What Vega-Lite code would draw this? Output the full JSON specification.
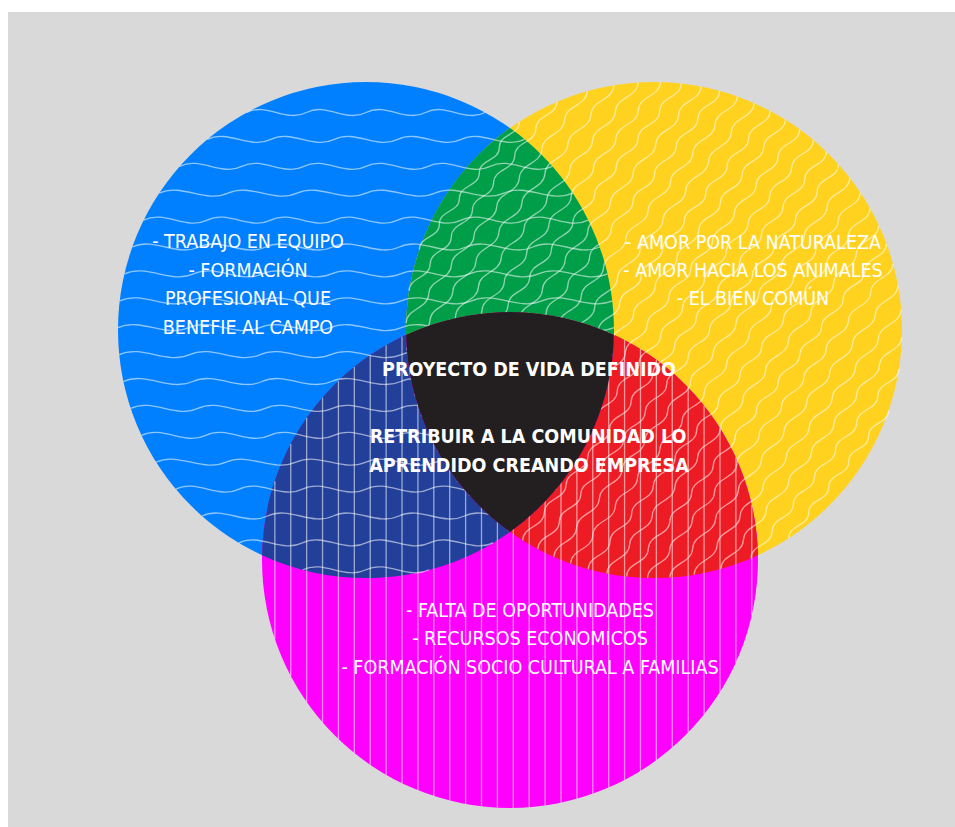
{
  "$schema": "https://vega.github.io/schema/vega-lite/v6.json",
  "width": 955,
  "height": 827,
  "autosize": {"type": "fit", "contains": "padding"},
  "padding": 0,
  "background": "white",
  "config": {"view": {"stroke": null}},
  "resolve": {"scale": {"color": "independent", "shape": "independent"}},
  "datasets": {
    "frame": [{"x": 8, "x2": 955, "y": 12, "y2": 827}],
    "sets": [
      {"set": "Blue", "cx": 366, "cy": 330},
      {"set": "Yellow", "cx": 654, "cy": 330},
      {"set": "Magenta", "cx": 510, "cy": 560}
    ],
    "regions": [
      {"region": "Blue∩Yellow", "cx": 510, "cy": 445},
      {"region": "Blue∩Magenta", "cx": 510, "cy": 445},
      {"region": "Yellow∩Magenta", "cx": 510, "cy": 445},
      {"region": "All", "cx": 510, "cy": 445}
    ],
    "labels": [
      {"text": "- TRABAJO EN EQUIPO", "x": 248, "y": 242, "area": "Blue"},
      {"text": "- FORMACIÓN", "x": 248, "y": 271, "area": "Blue"},
      {"text": "PROFESIONAL QUE", "x": 248, "y": 299, "area": "Blue"},
      {"text": "BENEFIE AL CAMPO", "x": 248, "y": 328, "area": "Blue"},
      {"text": "- AMOR POR LA NATURALEZA", "x": 753, "y": 243, "area": "Yellow"},
      {"text": "- AMOR HACIA LOS ANIMALES", "x": 753, "y": 271, "area": "Yellow"},
      {"text": "- EL BIEN COMÚN", "x": 753, "y": 299, "area": "Yellow"},
      {"text": "PROYECTO DE VIDA DEFINIDO", "x": 529, "y": 370, "area": "All"},
      {"text": "RETRIBUIR A LA COMUNIDAD LO", "x": 528, "y": 437, "area": "All"},
      {"text": "APRENDIDO CREANDO  EMPRESA", "x": 529, "y": 466, "area": "All"},
      {"text": "- FALTA DE OPORTUNIDADES", "x": 530, "y": 611, "area": "Magenta"},
      {"text": "- RECURSOS ECONOMICOS", "x": 530, "y": 639, "area": "Magenta"},
      {"text": "- FORMACIÓN SOCIO CULTURAL A FAMILIAS", "x": 530, "y": 668, "area": "Magenta"}
    ]
  },
  "layer": [
    {
      "data": {"name": "frame"},
      "mark": {"type": "rect", "color": "#d9d9d9"},
      "encoding": {
        "x": {"field": "x", "type": "quantitative", "axis": null, "scale": {"domain": [0, 955], "nice": false, "zero": false}},
        "x2": {"field": "x2"},
        "y": {"field": "y", "type": "quantitative", "axis": null, "scale": {"domain": [0, 827], "nice": false, "zero": false, "reverse": true}},
        "y2": {"field": "y2"}
      }
    },
    {
      "data": {"name": "sets"},
      "mark": {"type": "point", "shape": "circle", "filled": true, "size": 246016, "opacity": 1, "strokeWidth": 0},
      "encoding": {
        "x": {"field": "cx", "type": "quantitative", "axis": null, "scale": {"domain": [0, 955], "nice": false, "zero": false}},
        "y": {"field": "cy", "type": "quantitative", "axis": null, "scale": {"domain": [0, 827], "nice": false, "zero": false, "reverse": true}},
        "color": {"field": "set", "type": "nominal", "legend": null, "scale": {"domain": ["Blue", "Yellow", "Magenta"], "range": ["#0080ff", "#ffd21f", "#ff00ff"]}}
      }
    },
    {
      "data": {"name": "regions"},
      "transform": [{"filter": "datum.region !== 'All'"}],
      "mark": {"type": "point", "filled": true, "size": 640000, "opacity": 1, "strokeWidth": 0},
      "encoding": {
        "x": {"field": "cx", "type": "quantitative", "axis": null, "scale": {"domain": [0, 955], "nice": false, "zero": false}},
        "y": {"field": "cy", "type": "quantitative", "axis": null, "scale": {"domain": [0, 827], "nice": false, "zero": false, "reverse": true}},
        "shape": {"field": "region", "type": "nominal", "legend": null, "scale": {"domain": ["Blue∩Yellow", "Blue∩Magenta", "Yellow∩Magenta"], "range": [
          "M0,-0.79228A0.62,0.62,0,0,1,0.25988,-0.2754A0.62,0.62,0,0,0,-0.25988,-0.2754A0.62,0.62,0,0,1,0,-0.79228Z",
          "M-0.61988,0.2754A0.62,0.62,0,0,1,-0.25988,-0.2754A0.62,0.62,0,0,0,0,0.21728A0.62,0.62,0,0,1,-0.61988,0.2754Z",
          "M0.61988,0.2754A0.62,0.62,0,0,0,0.25988,-0.2754A0.62,0.62,0,0,1,0,0.21728A0.62,0.62,0,0,0,0.61988,0.2754Z"
        ]}},
        "color": {"field": "region", "type": "nominal", "legend": null, "scale": {"domain": ["Blue∩Yellow", "Blue∩Magenta", "Yellow∩Magenta"], "range": ["#009e49", "#22409a", "#ed1c24"]}}
      }
    },
    {
      "data": {"name": "sets"},
      "mark": {"type": "point", "filled": false, "size": 246016, "opacity": 1, "color": "white", "strokeOpacity": 0.55, "strokeWidth": 1.3},
      "encoding": {
        "x": {"field": "cx", "type": "quantitative", "axis": null, "scale": {"domain": [0, 955], "nice": false, "zero": false}},
        "y": {"field": "cy", "type": "quantitative", "axis": null, "scale": {"domain": [0, 827], "nice": false, "zero": false, "reverse": true}},
        "shape": {"field": "set", "type": "nominal", "legend": null, "scale": {"domain": ["Blue", "Yellow", "Magenta"], "range": [
          "M-.4806,-.877c.0801,-.042,.1602,.042,.2403,0,.0801,-.042,.1602,.042,.2403,0,.0801,-.042,.1602,.042,.2403,0,.0801,-.042,.1602,.042,.2403,0M-.6398,-.7685c.0853,-.042,.1706,.042,.2559,0,.0853,-.042,.1706,.042,.2559,0,.0853,-.042,.1706,.042,.2559,0,.0853,-.042,.1706,.042,.2559,0,.0853,-.042,.1706,.042,.2559,0M-.7513,-.66c.0835,-.042,.1669,.042,.2504,0,.0835,-.042,.1669,.042,.2504,0,.0835,-.042,.1669,.042,.2504,0,.0835,-.042,.1669,.042,.2504,0,.0835,-.042,.1669,.042,.2504,0,.0835,-.042,.1669,.042,.2504,0M-.8341,-.5516c.0927,-.042,.1853,.042,.278,0,.0927,-.042,.1853,.042,.278,0,.0927,-.042,.1853,.042,.278,0,.0927,-.042,.1853,.042,.278,0,.0927,-.042,.1853,.042,.278,0,.0927,-.042,.1853,.042,.278,0M-.8965,-.4431c.0854,-.042,.1707,.042,.2561,0,.0854,-.042,.1707,.042,.2561,0,.0854,-.042,.1707,.042,.2561,0,.0854,-.042,.1707,.042,.2561,0,.0854,-.042,.1707,.042,.2561,0,.0854,-.042,.1707,.042,.2561,0,.0854,-.042,.1707,.042,.2561,0M-.9423,-.3347c.0897,-.042,.1795,.042,.2692,0,.0897,-.042,.1795,.042,.2692,0,.0897,-.042,.1795,.042,.2692,0,.0897,-.042,.1795,.042,.2692,0,.0897,-.042,.1795,.042,.2692,0,.0897,-.042,.1795,.042,.2692,0,.0897,-.042,.1795,.042,.2692,0M-.9741,-.2262c.0928,-.042,.1855,.042,.2783,0,.0928,-.042,.1855,.042,.2783,0,.0928,-.042,.1855,.042,.2783,0,.0928,-.042,.1855,.042,.2783,0,.0928,-.042,.1855,.042,.2783,0,.0928,-.042,.1855,.042,.2783,0,.0928,-.042,.1855,.042,.2783,0M-.993,-.1177c.0946,-.042,.1891,.042,.2837,0,.0946,-.042,.1891,.042,.2837,0,.0946,-.042,.1891,.042,.2837,0,.0946,-.042,.1891,.042,.2837,0,.0946,-.042,.1891,.042,.2837,0,.0946,-.042,.1891,.042,.2837,0,.0946,-.042,.1891,.042,.2837,0M-1,-.0093c.0952,-.042,.1905,.042,.2857,0,.0952,-.042,.1905,.042,.2857,0,.0952,-.042,.1905,.042,.2857,0,.0952,-.042,.1905,.042,.2857,0,.0952,-.042,.1905,.042,.2857,0,.0952,-.042,.1905,.042,.2857,0,.0952,-.042,.1905,.042,.2857,0M-.9951,.0992c.0948,-.042,.1895,.042,.2843,0,.0948,-.042,.1895,.042,.2843,0,.0948,-.042,.1895,.042,.2843,0,.0948,-.042,.1895,.042,.2843,0,.0948,-.042,.1895,.042,.2843,0,.0948,-.042,.1895,.042,.2843,0,.0948,-.042,.1895,.042,.2843,0M-.9782,.2077c.0932,-.042,.1863,.042,.2795,0,.0932,-.042,.1863,.042,.2795,0,.0932,-.042,.1863,.042,.2795,0,.0932,-.042,.1863,.042,.2795,0,.0932,-.042,.1863,.042,.2795,0,.0932,-.042,.1863,.042,.2795,0,.0932,-.042,.1863,.042,.2795,0M-.9487,.3161c.0904,-.042,.1807,.042,.2711,0,.0904,-.042,.1807,.042,.2711,0,.0904,-.042,.1807,.042,.2711,0,.0904,-.042,.1807,.042,.2711,0,.0904,-.042,.1807,.042,.2711,0,.0904,-.042,.1807,.042,.2711,0,.0904,-.042,.1807,.042,.2711,0M-.9054,.4246c.0862,-.042,.1725,.042,.2587,0,.0862,-.042,.1725,.042,.2587,0,.0862,-.042,.1725,.042,.2587,0,.0862,-.042,.1725,.042,.2587,0,.0862,-.042,.1725,.042,.2587,0,.0862,-.042,.1725,.042,.2587,0,.0862,-.042,.1725,.042,.2587,0M-.8461,.5331c.094,-.042,.188,.042,.282,0,.094,-.042,.188,.042,.282,0,.094,-.042,.188,.042,.282,0,.094,-.042,.188,.042,.282,0,.094,-.042,.188,.042,.282,0,.094,-.042,.188,.042,.282,0M-.7671,.6415c.0852,-.042,.1705,.042,.2557,0,.0852,-.042,.1705,.042,.2557,0,.0852,-.042,.1705,.042,.2557,0,.0852,-.042,.1705,.042,.2557,0,.0852,-.042,.1705,.042,.2557,0,.0852,-.042,.1705,.042,.2557,0M-.6614,.75c.0882,-.042,.1764,.042,.2646,0,.0882,-.042,.1764,.042,.2646,0,.0882,-.042,.1764,.042,.2646,0,.0882,-.042,.1764,.042,.2646,0,.0882,-.042,.1764,.042,.2646,0M-.5128,.8585c.0855,-.042,.1709,.042,.2564,0,.0855,-.042,.1709,.042,.2564,0,.0855,-.042,.1709,.042,.2564,0,.0855,-.042,.1709,.042,.2564,0M-.2551,.9669c.085,-.042,.1701,.042,.2551,0,.085,-.042,.1701,.042,.2551,0",
          "M-.5877,.8091c.0017,-.0591,.0862,-.0534,.0879,-.1125,.0017,-.0591,.0862,-.0534,.0879,-.1125,.0017,-.0591,.0862,-.0534,.0879,-.1125,.0017,-.0591,.0862,-.0534,.0879,-.1125,.0017,-.0591,.0862,-.0534,.0879,-.1125,.0017,-.0591,.0862,-.0534,.0879,-.1125,.0017,-.0591,.0862,-.0534,.0879,-.1125,.0017,-.0591,.0862,-.0534,.0879,-.1125,.0017,-.0591,.0862,-.0534,.0879,-.1125,.0017,-.0591,.0862,-.0534,.0879,-.1125,.0017,-.0591,.0862,-.0534,.0879,-.1125,.0017,-.0591,.0862,-.0534,.0879,-.1125,.0017,-.0591,.0862,-.0534,.0879,-.1125,.0017,-.0591,.0862,-.0534,.0879,-.1125M-.6429,.766c.0017,-.0591,.0862,-.0534,.0879,-.1125,.0017,-.0591,.0862,-.0534,.0879,-.1125,.0017,-.0591,.0862,-.0534,.0879,-.1125,.0017,-.0591,.0862,-.0534,.0879,-.1125,.0017,-.0591,.0862,-.0534,.0879,-.1125,.0017,-.0591,.0862,-.0534,.0879,-.1125,.0017,-.0591,.0862,-.0534,.0879,-.1125,.0017,-.0591,.0862,-.0534,.0879,-.1125,.0017,-.0591,.0862,-.0534,.0879,-.1125,.0017,-.0591,.0862,-.0534,.0879,-.1125,.0017,-.0591,.0862,-.0534,.0879,-.1125,.0017,-.0591,.0862,-.0534,.0879,-.1125,.0017,-.0591,.0862,-.0534,.0879,-.1125,.0017,-.0591,.0862,-.0534,.0879,-.1125M-.5296,.8483c.0016,-.0589,.0859,-.0531,.0875,-.112,.0016,-.0589,.0859,-.0531,.0875,-.112,.0016,-.0589,.0859,-.0531,.0875,-.112,.0016,-.0589,.0859,-.0531,.0875,-.112,.0016,-.0589,.0859,-.0531,.0875,-.112,.0016,-.0589,.0859,-.0531,.0875,-.112,.0016,-.0589,.0859,-.0531,.0875,-.112,.0016,-.0589,.0859,-.0531,.0875,-.112,.0016,-.0589,.0859,-.0531,.0875,-.112,.0016,-.0589,.0859,-.0531,.0875,-.112,.0016,-.0589,.0859,-.0531,.0875,-.112,.0016,-.0589,.0859,-.0531,.0875,-.112,.0016,-.0589,.0859,-.0531,.0875,-.112,.0016,-.0589,.0859,-.0531,.0875,-.112M-.695,.719c.0016,-.0589,.0859,-.0531,.0875,-.112,.0016,-.0589,.0859,-.0531,.0875,-.112,.0016,-.0589,.0859,-.0531,.0875,-.112,.0016,-.0589,.0859,-.0531,.0875,-.112,.0016,-.0589,.0859,-.0531,.0875,-.112,.0016,-.0589,.0859,-.0531,.0875,-.112,.0016,-.0589,.0859,-.0531,.0875,-.112,.0016,-.0589,.0859,-.0531,.0875,-.112,.0016,-.0589,.0859,-.0531,.0875,-.112,.0016,-.0589,.0859,-.0531,.0875,-.112,.0016,-.0589,.0859,-.0531,.0875,-.112,.0016,-.0589,.0859,-.0531,.0875,-.112,.0016,-.0589,.0859,-.0531,.0875,-.112,.0016,-.0589,.0859,-.0531,.0875,-.112M-.4683,.8836c.0013,-.0585,.0853,-.0523,.0866,-.1108,.0013,-.0585,.0853,-.0523,.0866,-.1108,.0013,-.0585,.0853,-.0523,.0866,-.1108,.0013,-.0585,.0853,-.0523,.0866,-.1108,.0013,-.0585,.0853,-.0523,.0866,-.1108,.0013,-.0585,.0853,-.0523,.0866,-.1108,.0013,-.0585,.0853,-.0523,.0866,-.1108,.0013,-.0585,.0853,-.0523,.0866,-.1108,.0013,-.0585,.0853,-.0523,.0866,-.1108,.0013,-.0585,.0853,-.0523,.0866,-.1108,.0013,-.0585,.0853,-.0523,.0866,-.1108,.0013,-.0585,.0853,-.0523,.0866,-.1108,.0013,-.0585,.0853,-.0523,.0866,-.1108,.0013,-.0585,.0853,-.0523,.0866,-.1108M-.7441,.6681c.0013,-.0585,.0853,-.0523,.0866,-.1108,.0013,-.0585,.0853,-.0523,.0866,-.1108,.0013,-.0585,.0853,-.0523,.0866,-.1108,.0013,-.0585,.0853,-.0523,.0866,-.1108,.0013,-.0585,.0853,-.0523,.0866,-.1108,.0013,-.0585,.0853,-.0523,.0866,-.1108,.0013,-.0585,.0853,-.0523,.0866,-.1108,.0013,-.0585,.0853,-.0523,.0866,-.1108,.0013,-.0585,.0853,-.0523,.0866,-.1108,.0013,-.0585,.0853,-.0523,.0866,-.1108,.0013,-.0585,.0853,-.0523,.0866,-.1108,.0013,-.0585,.0853,-.0523,.0866,-.1108,.0013,-.0585,.0853,-.0523,.0866,-.1108,.0013,-.0585,.0853,-.0523,.0866,-.1108M-.4039,.9148c.003,-.0607,.0888,-.0568,.0918,-.1175,.003,-.0607,.0888,-.0568,.0918,-.1175,.003,-.0607,.0888,-.0568,.0918,-.1175,.003,-.0607,.0888,-.0568,.0918,-.1175,.003,-.0607,.0888,-.0568,.0918,-.1175,.003,-.0607,.0888,-.0568,.0918,-.1175,.003,-.0607,.0888,-.0568,.0918,-.1175,.003,-.0607,.0888,-.0568,.0918,-.1175,.003,-.0607,.0888,-.0568,.0918,-.1175,.003,-.0607,.0888,-.0568,.0918,-.1175,.003,-.0607,.0888,-.0568,.0918,-.1175,.003,-.0607,.0888,-.0568,.0918,-.1175,.003,-.0607,.0888,-.0568,.0918,-.1175M-.79,.6131c.003,-.0607,.0888,-.0568,.0918,-.1175,.003,-.0607,.0888,-.0568,.0918,-.1175,.003,-.0607,.0888,-.0568,.0918,-.1175,.003,-.0607,.0888,-.0568,.0918,-.1175,.003,-.0607,.0888,-.0568,.0918,-.1175,.003,-.0607,.0888,-.0568,.0918,-.1175,.003,-.0607,.0888,-.0568,.0918,-.1175,.003,-.0607,.0888,-.0568,.0918,-.1175,.003,-.0607,.0888,-.0568,.0918,-.1175,.003,-.0607,.0888,-.0568,.0918,-.1175,.003,-.0607,.0888,-.0568,.0918,-.1175,.003,-.0607,.0888,-.0568,.0918,-.1175,.003,-.0607,.0888,-.0568,.0918,-.1175M-.3361,.9418c.0024,-.0599,.0875,-.0552,.0899,-.1151,.0024,-.0599,.0875,-.0552,.0899,-.1151,.0024,-.0599,.0875,-.0552,.0899,-.1151,.0024,-.0599,.0875,-.0552,.0899,-.1151,.0024,-.0599,.0875,-.0552,.0899,-.1151,.0024,-.0599,.0875,-.0552,.0899,-.1151,.0024,-.0599,.0875,-.0552,.0899,-.1151,.0024,-.0599,.0875,-.0552,.0899,-.1151,.0024,-.0599,.0875,-.0552,.0899,-.1151,.0024,-.0599,.0875,-.0552,.0899,-.1151,.0024,-.0599,.0875,-.0552,.0899,-.1151,.0024,-.0599,.0875,-.0552,.0899,-.1151,.0024,-.0599,.0875,-.0552,.0899,-.1151M-.8326,.5539c.0024,-.0599,.0875,-.0552,.0899,-.1151,.0024,-.0599,.0875,-.0552,.0899,-.1151,.0024,-.0599,.0875,-.0552,.0899,-.1151,.0024,-.0599,.0875,-.0552,.0899,-.1151,.0024,-.0599,.0875,-.0552,.0899,-.1151,.0024,-.0599,.0875,-.0552,.0899,-.1151,.0024,-.0599,.0875,-.0552,.0899,-.1151,.0024,-.0599,.0875,-.0552,.0899,-.1151,.0024,-.0599,.0875,-.0552,.0899,-.1151,.0024,-.0599,.0875,-.0552,.0899,-.1151,.0024,-.0599,.0875,-.0552,.0899,-.1151,.0024,-.0599,.0875,-.0552,.0899,-.1151,.0024,-.0599,.0875,-.0552,.0899,-.1151M-.2649,.9643c.0016,-.0589,.0859,-.053,.0874,-.1119,.0016,-.0589,.0859,-.053,.0874,-.1119,.0016,-.0589,.0859,-.053,.0874,-.1119,.0016,-.0589,.0859,-.053,.0874,-.1119,.0016,-.0589,.0859,-.053,.0874,-.1119,.0016,-.0589,.0859,-.053,.0874,-.1119,.0016,-.0589,.0859,-.053,.0874,-.1119,.0016,-.0589,.0859,-.053,.0874,-.1119,.0016,-.0589,.0859,-.053,.0874,-.1119,.0016,-.0589,.0859,-.053,.0874,-.1119,.0016,-.0589,.0859,-.053,.0874,-.1119,.0016,-.0589,.0859,-.053,.0874,-.1119,.0016,-.0589,.0859,-.053,.0874,-.1119M-.8716,.4902c.0016,-.0589,.0859,-.053,.0874,-.1119,.0016,-.0589,.0859,-.053,.0874,-.1119,.0016,-.0589,.0859,-.053,.0874,-.1119,.0016,-.0589,.0859,-.053,.0874,-.1119,.0016,-.0589,.0859,-.053,.0874,-.1119,.0016,-.0589,.0859,-.053,.0874,-.1119,.0016,-.0589,.0859,-.053,.0874,-.1119,.0016,-.0589,.0859,-.053,.0874,-.1119,.0016,-.0589,.0859,-.053,.0874,-.1119,.0016,-.0589,.0859,-.053,.0874,-.1119,.0016,-.0589,.0859,-.053,.0874,-.1119,.0016,-.0589,.0859,-.053,.0874,-.1119,.0016,-.0589,.0859,-.053,.0874,-.1119M-.1897,.9819c.0029,-.0605,.0885,-.0564,.0914,-.117,.0029,-.0605,.0885,-.0564,.0914,-.117,.0029,-.0605,.0885,-.0564,.0914,-.117,.0029,-.0605,.0885,-.0564,.0914,-.117,.0029,-.0605,.0885,-.0564,.0914,-.117,.0029,-.0605,.0885,-.0564,.0914,-.117,.0029,-.0605,.0885,-.0564,.0914,-.117,.0029,-.0605,.0885,-.0564,.0914,-.117,.0029,-.0605,.0885,-.0564,.0914,-.117,.0029,-.0605,.0885,-.0564,.0914,-.117,.0029,-.0605,.0885,-.0564,.0914,-.117,.0029,-.0605,.0885,-.0564,.0914,-.117M-.9068,.4216c.0029,-.0605,.0885,-.0564,.0914,-.117,.0029,-.0605,.0885,-.0564,.0914,-.117,.0029,-.0605,.0885,-.0564,.0914,-.117,.0029,-.0605,.0885,-.0564,.0914,-.117,.0029,-.0605,.0885,-.0564,.0914,-.117,.0029,-.0605,.0885,-.0564,.0914,-.117,.0029,-.0605,.0885,-.0564,.0914,-.117,.0029,-.0605,.0885,-.0564,.0914,-.117,.0029,-.0605,.0885,-.0564,.0914,-.117,.0029,-.0605,.0885,-.0564,.0914,-.117,.0029,-.0605,.0885,-.0564,.0914,-.117,.0029,-.0605,.0885,-.0564,.0914,-.117M-.1103,.9939c.0015,-.0588,.0858,-.053,.0873,-.1118,.0015,-.0588,.0858,-.053,.0873,-.1118,.0015,-.0588,.0858,-.053,.0873,-.1118,.0015,-.0588,.0858,-.053,.0873,-.1118,.0015,-.0588,.0858,-.053,.0873,-.1118,.0015,-.0588,.0858,-.053,.0873,-.1118,.0015,-.0588,.0858,-.053,.0873,-.1118,.0015,-.0588,.0858,-.053,.0873,-.1118,.0015,-.0588,.0858,-.053,.0873,-.1118,.0015,-.0588,.0858,-.053,.0873,-.1118,.0015,-.0588,.0858,-.053,.0873,-.1118,.0015,-.0588,.0858,-.053,.0873,-.1118M-.9377,.3474c.0015,-.0588,.0858,-.053,.0873,-.1118,.0015,-.0588,.0858,-.053,.0873,-.1118,.0015,-.0588,.0858,-.053,.0873,-.1118,.0015,-.0588,.0858,-.053,.0873,-.1118,.0015,-.0588,.0858,-.053,.0873,-.1118,.0015,-.0588,.0858,-.053,.0873,-.1118,.0015,-.0588,.0858,-.053,.0873,-.1118,.0015,-.0588,.0858,-.053,.0873,-.1118,.0015,-.0588,.0858,-.053,.0873,-.1118,.0015,-.0588,.0858,-.053,.0873,-.1118,.0015,-.0588,.0858,-.053,.0873,-.1118,.0015,-.0588,.0858,-.053,.0873,-.1118M-.026,.9997c.0024,-.0599,.0876,-.0552,.09,-.1152,.0024,-.0599,.0876,-.0552,.09,-.1152,.0024,-.0599,.0876,-.0552,.09,-.1152,.0024,-.0599,.0876,-.0552,.09,-.1152,.0024,-.0599,.0876,-.0552,.09,-.1152,.0024,-.0599,.0876,-.0552,.09,-.1152,.0024,-.0599,.0876,-.0552,.09,-.1152,.0024,-.0599,.0876,-.0552,.09,-.1152,.0024,-.0599,.0876,-.0552,.09,-.1152,.0024,-.0599,.0876,-.0552,.09,-.1152,.0024,-.0599,.0876,-.0552,.09,-.1152M-.9637,.267c.0024,-.0599,.0876,-.0552,.09,-.1152,.0024,-.0599,.0876,-.0552,.09,-.1152,.0024,-.0599,.0876,-.0552,.09,-.1152,.0024,-.0599,.0876,-.0552,.09,-.1152,.0024,-.0599,.0876,-.0552,.09,-.1152,.0024,-.0599,.0876,-.0552,.09,-.1152,.0024,-.0599,.0876,-.0552,.09,-.1152,.0024,-.0599,.0876,-.0552,.09,-.1152,.0024,-.0599,.0876,-.0552,.09,-.1152,.0024,-.0599,.0876,-.0552,.09,-.1152,.0024,-.0599,.0876,-.0552,.09,-.1152M.0642,.998c.0031,-.0608,.0889,-.0569,.092,-.1177,.0031,-.0608,.0889,-.0569,.092,-.1177,.0031,-.0608,.0889,-.0569,.092,-.1177,.0031,-.0608,.0889,-.0569,.092,-.1177,.0031,-.0608,.0889,-.0569,.092,-.1177,.0031,-.0608,.0889,-.0569,.092,-.1177,.0031,-.0608,.0889,-.0569,.092,-.1177,.0031,-.0608,.0889,-.0569,.092,-.1177,.0031,-.0608,.0889,-.0569,.092,-.1177,.0031,-.0608,.0889,-.0569,.092,-.1177M-.9839,.1791c.0031,-.0608,.0889,-.0569,.092,-.1177,.0031,-.0608,.0889,-.0569,.092,-.1177,.0031,-.0608,.0889,-.0569,.092,-.1177,.0031,-.0608,.0889,-.0569,.092,-.1177,.0031,-.0608,.0889,-.0569,.092,-.1177,.0031,-.0608,.0889,-.0569,.092,-.1177,.0031,-.0608,.0889,-.0569,.092,-.1177,.0031,-.0608,.0889,-.0569,.092,-.1177,.0031,-.0608,.0889,-.0569,.092,-.1177,.0031,-.0608,.0889,-.0569,.092,-.1177M.1617,.9869c.0033,-.0611,.0894,-.0576,.0928,-.1187,.0033,-.0611,.0894,-.0576,.0928,-.1187,.0033,-.0611,.0894,-.0576,.0928,-.1187,.0033,-.0611,.0894,-.0576,.0928,-.1187,.0033,-.0611,.0894,-.0576,.0928,-.1187,.0033,-.0611,.0894,-.0576,.0928,-.1187,.0033,-.0611,.0894,-.0576,.0928,-.1187,.0033,-.0611,.0894,-.0576,.0928,-.1187,.0033,-.0611,.0894,-.0576,.0928,-.1187M-.9967,.0818c.0033,-.0611,.0894,-.0576,.0928,-.1187,.0033,-.0611,.0894,-.0576,.0928,-.1187,.0033,-.0611,.0894,-.0576,.0928,-.1187,.0033,-.0611,.0894,-.0576,.0928,-.1187,.0033,-.0611,.0894,-.0576,.0928,-.1187,.0033,-.0611,.0894,-.0576,.0928,-.1187,.0033,-.0611,.0894,-.0576,.0928,-.1187,.0033,-.0611,.0894,-.0576,.0928,-.1187,.0033,-.0611,.0894,-.0576,.0928,-.1187M.2691,.9631c.0029,-.0605,.0885,-.0564,.0913,-.1169,.0029,-.0605,.0885,-.0564,.0913,-.1169,.0029,-.0605,.0885,-.0564,.0913,-.1169,.0029,-.0605,.0885,-.0564,.0913,-.1169,.0029,-.0605,.0885,-.0564,.0913,-.1169,.0029,-.0605,.0885,-.0564,.0913,-.1169,.0029,-.0605,.0885,-.0564,.0913,-.1169,.0029,-.0605,.0885,-.0564,.0913,-.1169M-.9996,-.0281c.0029,-.0605,.0885,-.0564,.0913,-.1169,.0029,-.0605,.0885,-.0564,.0913,-.1169,.0029,-.0605,.0885,-.0564,.0913,-.1169,.0029,-.0605,.0885,-.0564,.0913,-.1169,.0029,-.0605,.0885,-.0564,.0913,-.1169,.0029,-.0605,.0885,-.0564,.0913,-.1169,.0029,-.0605,.0885,-.0564,.0913,-.1169,.0029,-.0605,.0885,-.0564,.0913,-.1169M.3914,.9202c.0008,-.0579,.0844,-.0511,.0852,-.109,.0008,-.0579,.0844,-.0511,.0852,-.109,.0008,-.0579,.0844,-.0511,.0852,-.109,.0008,-.0579,.0844,-.0511,.0852,-.109,.0008,-.0579,.0844,-.0511,.0852,-.109,.0008,-.0579,.0844,-.0511,.0852,-.109,.0008,-.0579,.0844,-.0511,.0852,-.109M-.9876,-.1573c.0008,-.0579,.0844,-.0511,.0852,-.109,.0008,-.0579,.0844,-.0511,.0852,-.109,.0008,-.0579,.0844,-.0511,.0852,-.109,.0008,-.0579,.0844,-.0511,.0852,-.109,.0008,-.0579,.0844,-.0511,.0852,-.109,.0008,-.0579,.0844,-.0511,.0852,-.109,.0008,-.0579,.0844,-.0511,.0852,-.109M.5433,.8396c-.0007,-.0559,.0813,-.0472,.0806,-.1031,-.0007,-.0559,.0813,-.0472,.0806,-.1031,-.0007,-.0559,.0813,-.0472,.0806,-.1031,-.0007,-.0559,.0813,-.0472,.0806,-.1031,-.0007,-.0559,.0813,-.0472,.0806,-.1031M-.946,-.3241c-.0007,-.0559,.0813,-.0472,.0806,-.1031,-.0007,-.0559,.0813,-.0472,.0806,-.1031,-.0007,-.0559,.0813,-.0472,.0806,-.1031,-.0007,-.0559,.0813,-.0472,.0806,-.1031,-.0007,-.0559,.0813,-.0472,.0806,-.1031",
          "M-.9482,-.3176V.3176M-.8841,-.4673V.4673M-.82,-.5724V.5724M-.7559,-.6547V.6547M-.6918,-.7221V.7221M-.6277,-.7785V.7785M-.5636,-.8261V.8261M-.4995,-.8663V.8663M-.4354,-.9002V.9002M-.3713,-.9285V.9285M-.3072,-.9517V.9517M-.2431,-.97V.97M-.179,-.9839V.9839M-.1149,-.9934V.9934M-.0508,-.9987V.9987M.0133,-.9999V.9999M.0774,-.997V.997M.1415,-.9899V.9899M.2056,-.9787V.9787M.2697,-.963V.963M.3338,-.9427V.9427M.3979,-.9174V.9174M.462,-.8869V.8869M.5261,-.8504V.8504M.5902,-.8073V.8073M.6543,-.7562V.7562M.7184,-.6956V.6956M.7825,-.6227V.6227M.8466,-.5322V.5322M.9107,-.4131V.4131M.9748,-.2232V.2232"
        ]}}
      }
    },
    {
      "data": {"name": "regions"},
      "transform": [{"filter": "datum.region === 'All'"}],
      "mark": {"type": "point", "filled": true, "size": 640000, "opacity": 1, "strokeWidth": 0, "color": "#231f20", "shape": "M-0.25988,-0.2754A0.62,0.62,0,0,1,0.25988,-0.2754A0.62,0.62,0,0,1,0,0.21728A0.62,0.62,0,0,1,-0.25988,-0.2754Z"},
      "encoding": {
        "x": {"field": "cx", "type": "quantitative", "axis": null, "scale": {"domain": [0, 955], "nice": false, "zero": false}},
        "y": {"field": "cy", "type": "quantitative", "axis": null, "scale": {"domain": [0, 827], "nice": false, "zero": false, "reverse": true}}
      }
    },
    {
      "data": {"name": "labels"},
      "transform": [{"filter": "datum.area !== 'All'"}],
      "mark": {"type": "text", "color": "white", "font": "DejaVu Sans Condensed, sans-serif", "fontSize": 19.5, "align": "center", "baseline": "middle"},
      "encoding": {
        "x": {"field": "x", "type": "quantitative", "axis": null, "scale": {"domain": [0, 955], "nice": false, "zero": false}},
        "y": {"field": "y", "type": "quantitative", "axis": null, "scale": {"domain": [0, 827], "nice": false, "zero": false, "reverse": true}},
        "text": {"field": "text", "type": "nominal"}
      }
    },
    {
      "data": {"name": "labels"},
      "transform": [{"filter": "datum.area === 'All'"}],
      "mark": {"type": "text", "color": "white", "font": "DejaVu Sans Condensed, sans-serif", "fontSize": 19.5, "fontWeight": "bold", "align": "center", "baseline": "middle"},
      "encoding": {
        "x": {"field": "x", "type": "quantitative", "axis": null, "scale": {"domain": [0, 955], "nice": false, "zero": false}},
        "y": {"field": "y", "type": "quantitative", "axis": null, "scale": {"domain": [0, 827], "nice": false, "zero": false, "reverse": true}},
        "text": {"field": "text", "type": "nominal"}
      }
    }
  ]
}
